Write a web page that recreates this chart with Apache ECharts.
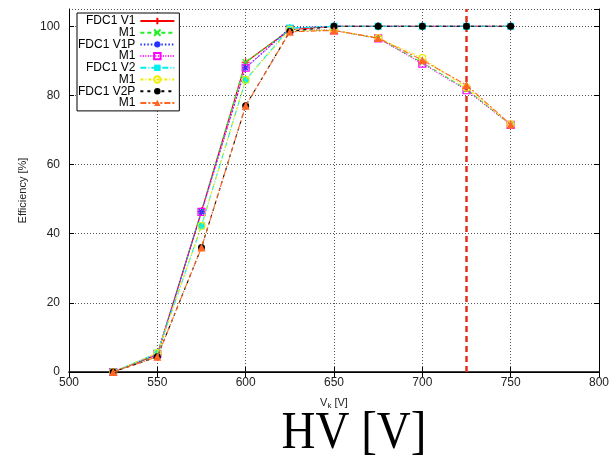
<!DOCTYPE html>
<html><head><meta charset="utf-8">
<script src="https://cdn.jsdelivr.net/npm/echarts@6/dist/echarts.min.js"></script>
<style>html,body{margin:0;padding:0;background:#fff}#c{width:612px;height:458px}</style>
</head><body><div id="c"></div>
<script>
const hv = [525, 550, 575, 600, 625, 650, 675, 700, 725, 750];
const fdc1V1  = [0, 5.0, 46.5, 89.6, 99.0, 100, 100, 100, 100, 100];
const m1V1    = [0, 5.0, 46.5, 89.6, 99.0, 98.8, 96.5, 89.5, 81.8, 71.5];
const fdc1V1P = [0, 5.2, 46.3, 88.0, 99.5, 100, 100, 100, 100, 100];
const m1V1P   = [0, 5.2, 46.3, 88.0, 99.2, 98.8, 96.5, 89.2, 81.5, 71.5];
const fdc1V2  = [0, 5.5, 42.3, 84.5, 99.5, 100, 100, 100, 100, 100];
const m1V2    = [0, 5.5, 42.3, 84.5, 99.0, 98.8, 96.6, 90.8, 82.3, 71.6];
const fdc1V2P = [0, 4.4, 36.0, 77.0, 98.5, 100, 100, 100, 100, 100];
const m1V2P   = [0, 4.4, 36.0, 77.0, 98.4, 98.8, 96.6, 90.2, 83.0, 71.6];
const cutHV = 725;
const seriesNames = ['FDC1 V1', 'M1 #1', 'FDC1 V1P', 'M1 #2', 'FDC1 V2', 'M1 #3', 'FDC1 V2P', 'M1 #4'];
const seriesValues = [fdc1V1, m1V1, fdc1V1P, m1V1P, fdc1V2, m1V2, fdc1V2P, m1V2P];
const xTicks = {min: 500, max: 800, step: 50};
const yTicks = {min: 0, max: 105, step: 20};

const PLUS = 'path://M0,5L10,5M5,0L5,10';
const CROSS = 'path://M0,0L10,10M10,0L0,10';
const STAR = 'path://M0,5L10,5M5,0L5,10M1.5,1.5L8.5,8.5M8.5,1.5L1.5,8.5';
const styles = [
  {c: '#ff0000', dash: 'solid', sym: PLUS, size: 8, fill: 'none', bw: 1.2},
  {c: '#22ee22', dash: [4, 3], sym: CROSS, size: 6, fill: 'none', bw: 1.2},
  {c: '#2233ff', dash: [1.5, 2], sym: STAR, size: 7, fill: 'none', bw: 1.2},
  {c: '#ff00ff', dash: [1, 1.5], sym: 'rect', size: 7, fill: 'rgba(0,0,0,0)', bw: 1.2},
  {c: '#00eeee', dash: [6, 2, 1, 2], sym: 'rect', size: 7, fill: '#00eeee', bw: 0},
  {c: '#eeee00', dash: [3, 2, 1, 2], sym: 'circle', size: 7, fill: 'rgba(0,0,0,0)', bw: 1.2},
  {c: '#000000', dash: [3, 4], sym: 'circle', size: 7, fill: '#000000', bw: 0},
  {c: '#ff6622', dash: [6, 2, 2, 2], sym: 'triangle', size: 8, fill: '#ff6622', bw: 0}
];

const series = seriesNames.map((name, i) => {
  const s = styles[i];
  return {
    name: name, type: 'line', xAxisIndex: 0, yAxisIndex: 0,
    data: hv.map((x, k) => [x, seriesValues[i][k]]),
    symbol: s.sym, symbolSize: s.size, showAllSymbol: true,
    lineStyle: {color: s.c, width: 1.1, type: s.dash},
    itemStyle: {color: s.fill, borderColor: s.c, borderWidth: s.bw},
    emphasis: {disabled: true}, z: 2 + i
  };
});
series[0].markLine = {
  silent: true, symbol: 'none', label: {show: false},
  lineStyle: {color: '#e0301a', width: 2.5, type: [6, 4]},
  data: [{xAxis: cutHV}]
};

const font = 'Liberation Sans';
const chart = echarts.init(document.getElementById('c'), null, {renderer: 'canvas'});
chart.setOption({
  animation: false,
  backgroundColor: '#fff',
  grid: {left: 69, right: 11, top: 9, bottom: 86},
  legend: {
    orient: 'vertical', left: 77, top: 13, align: 'right',
    itemWidth: 34, itemHeight: 8, itemGap: -0.3,
    borderColor: '#000', borderWidth: 1, borderRadius: 0, padding: [2, 4, 2, 1],
    backgroundColor: '#fff',
    textStyle: {fontFamily: font, fontSize: 12, color: '#000', lineHeight: 10},
    formatter: n => n.replace(/ #\d$/, ''),
    data: seriesNames
  },
  xAxis: [{
    type: 'value', position: 'bottom', min: xTicks.min, max: xTicks.max, interval: xTicks.step,
    name: 'V{s|k} [V]', nameLocation: 'middle', nameGap: 24,
    nameTextStyle: {fontFamily: font, fontSize: 11, color: '#222', rich: {s: {fontFamily: font, fontSize: 8, color: '#222', verticalAlign: 'bottom', padding: [6, 0, 0, 0]}}},
    axisLine: {show: true, lineStyle: {color: '#000', width: 1.5}},
    axisTick: {show: true, inside: true, length: 5, lineStyle: {color: '#000'}},
    axisLabel: {fontFamily: font, fontSize: 12, color: '#222', margin: 5},
    splitLine: {show: true, lineStyle: {color: '#555', width: 1, type: [1, 2]}}
  }, {
    type: 'value', position: 'top', min: xTicks.min, max: xTicks.max, interval: xTicks.step,
    axisLine: {show: true, lineStyle: {color: '#000', width: 1}},
    axisTick: {show: true, inside: true, length: 5, lineStyle: {color: '#000'}},
    axisLabel: {show: false}, splitLine: {show: false}
  }],
  yAxis: [{
    type: 'value', position: 'left', min: yTicks.min, max: yTicks.max, interval: yTicks.step,
    name: 'Efficiency [%]', nameLocation: 'middle', nameGap: 41,
    nameTextStyle: {fontFamily: font, fontSize: 11, color: '#222'},
    axisLine: {show: true, lineStyle: {color: '#000', width: 1}},
    axisTick: {show: true, inside: true, length: 5, lineStyle: {color: '#000'}},
    axisLabel: {fontFamily: font, fontSize: 12, color: '#222', margin: 9, showMaxLabel: false},
    splitLine: {show: true, lineStyle: {color: '#555', width: 1, type: [1, 2]}}
  }, {
    type: 'value', position: 'right', min: yTicks.min, max: yTicks.max, interval: yTicks.step,
    axisLine: {show: true, lineStyle: {color: '#000', width: 1}},
    axisTick: {show: true, inside: true, length: 5, lineStyle: {color: '#000'}},
    axisLabel: {show: false}, splitLine: {show: false}
  }],
  graphic: [{
    type: 'text', x: 354, y: 434, scaleY: 1.12,
    style: {text: 'HV [V]', font: '47px "Liberation Serif"', fill: '#000', align: 'center', verticalAlign: 'middle'}
  }],
  series: series
});
</script>
</body></html>
